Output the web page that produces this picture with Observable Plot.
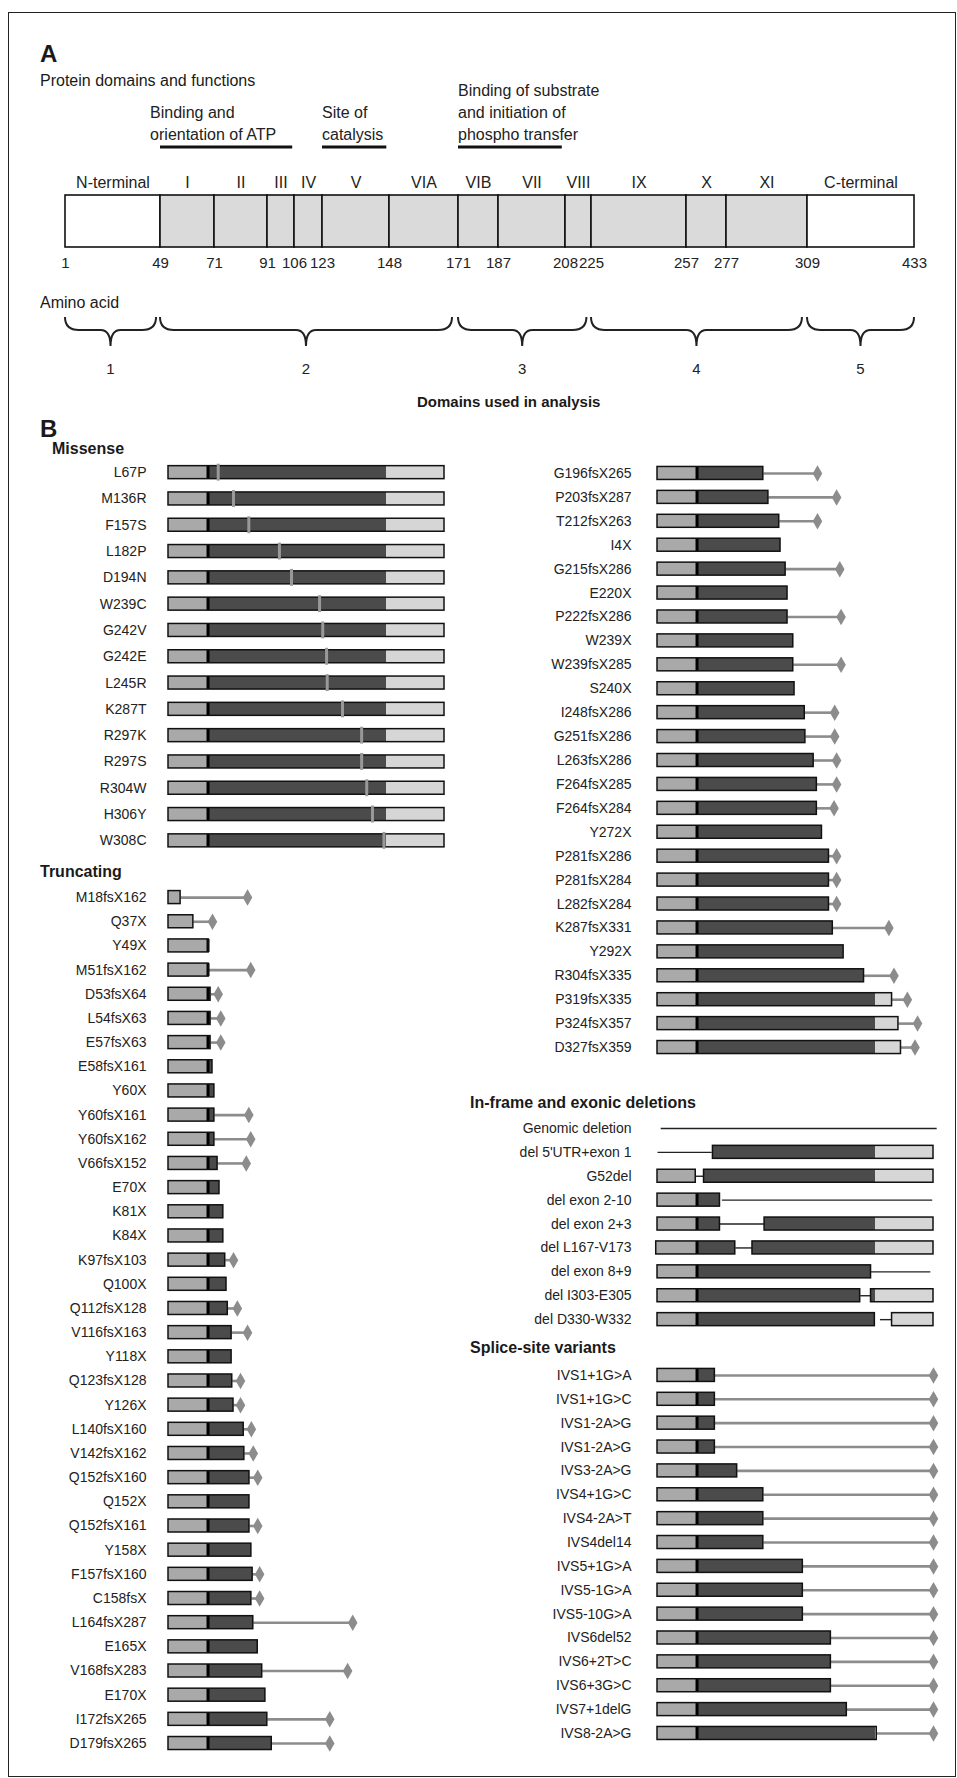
<!DOCTYPE html>
<html>
<head>
<meta charset="utf-8">
<script src="https://cdn.jsdelivr.net/npm/d3@7"></script>
<script src="https://cdn.jsdelivr.net/npm/@observablehq/plot@0.6"></script>
<style>
  body { margin: 0; background: #fff; }
  #page { position: relative; width: 957px; height: 1778px; background: #fff; font-family: "Liberation Sans", Arial, sans-serif; color: #1a1a1a; }
  #frame { position: absolute; left: 8px; top: 12px; right: 1px; bottom: 1px; border: 1px solid #222; }
  .abs { position: absolute; white-space: nowrap; }
  .panel { font-weight: bold; font-size: 24px; }
  .head { font-weight: bold; font-size: 16px; }
  .chart { position: absolute; }
</style>
</head>
<body>
<div id="page">
  <div id="frame"></div>
  <div class="abs panel" style="left:40px;top:40px">A</div>
  <div class="abs" style="left:40px;top:72px;font-size:16px">Protein domains and functions</div>
  <div class="abs" style="left:40px;top:294px;font-size:16px">Amino acid</div>
  <div class="abs" style="left:417px;top:393px;font-size:15px;font-weight:bold">Domains used in analysis</div>
  <div class="abs panel" style="left:40px;top:415px">B</div>
  <div class="abs head" style="left:52px;top:440px">Missense</div>
  <div class="abs head" style="left:40px;top:863px">Truncating</div>
  <div class="abs head" style="left:470px;top:1094px">In-frame and exonic deletions</div>
  <div class="abs head" style="left:470px;top:1339px">Splice-site variants</div>
</div>
<script>
// ---- Panel A: protein domains (amino acid boundaries) ----
const domainNames = ["N-terminal", "I", "II", "III", "IV", "V", "VIA", "VIB", "VII", "VIII", "IX", "X", "XI", "C-terminal"];
const domainBounds = [1, 49, 71, 91, 106, 123, 148, 171, 187, 208, 225, 257, 277, 309, 433];
// drawn (non-proportional) position of each boundary in the figure
const boundPixels = [65, 160, 214, 267, 294, 322, 389, 458, 498, 565, 591, 686, 726, 807, 914];
const functionNotes = [
  {text: "Binding and\norientation of ATP", from: 44, start: 49, end: 105},
  {text: "Site of\ncatalysis", from: 123, start: 123, end: 147},
  {text: "Binding of substrate\nand initiation of\nphospho transfer", from: 171, start: 171, end: 207}
];
const analysisDomains = [[1, 47], [49, 169], [171, 222], [225, 307], [309, 433]];

// ---- Panel B: values in amino-acid units along the drawn protein bar ----
const LIGHT_END = 62, DARK_END = 342, PROT_LEN = 433;

const missenseLabels = ["L67P", "M136R", "F157S", "L182P", "D194N", "W239C", "G242V", "G242E", "L245R", "K287T", "R297K", "R297S", "R304W", "H306Y", "W308C"];
const missenseSite = [78, 102, 126, 174, 193, 237, 242, 248, 249, 273, 303, 303, 311, 320, 338];

const truncLeftLabels = ["M18fsX162", "Q37X", "Y49X", "M51fsX162", "D53fsX64", "L54fsX63", "E57fsX63", "E58fsX161", "Y60X", "Y60fsX161", "Y60fsX162", "V66fsX152", "E70X", "K81X", "K84X", "K97fsX103", "Q100X", "Q112fsX128", "V116fsX163", "Y118X", "Q123fsX128", "Y126X", "L140fsX160", "V142fsX162", "Q152fsX160", "Q152X", "Q152fsX161", "Y158X", "F157fsX160", "C158fsX", "L164fsX287", "E165X", "V168fsX283", "E170X", "I172fsX265", "D179fsX265"];
const truncLeftEnd = [19, 39, 63, 63, 66, 66, 66, 69, 72, 72, 72, 77, 80, 86, 86, 89, 91, 93, 99, 99, 100, 102, 118, 119, 127, 127, 127, 130, 132, 130, 133, 140, 147, 152, 155, 162];
const truncLeftStop = [124, 69, null, 129, 78, 82, 82, null, null, 126, 129, 122, null, null, null, 102, null, 108, 124, null, 113, 113, 130, 133, 140, null, 140, null, 143, 143, 289, null, 281, null, 253, 253];

const truncRightLabels = ["G196fsX265", "P203fsX287", "T212fsX263", "I4X", "G215fsX286", "E220X", "P222fsX286", "W239X", "W239fsX285", "S240X", "I248fsX286", "G251fsX286", "L263fsX286", "F264fsX285", "F264fsX284", "Y272X", "P281fsX286", "P281fsX284", "L282fsX284", "K287fsX331", "Y292X", "R304fsX335", "P319fsX335", "P324fsX357", "D327fsX359"];
const truncRightEnd = [166, 174, 191, 193, 201, 204, 204, 213, 213, 215, 231, 232, 245, 250, 250, 258, 269, 269, 269, 275, 292, 324, 368, 378, 382];
const truncRightStop = [251, 281, 251, null, 286, null, 288, null, 288, null, 278, 278, 281, 281, 277, null, 281, 281, 281, 363, null, 371, 392, 408, 404];

const delLabels = ["Genomic deletion", "del 5'UTR+exon 1", "G52del", "del exon 2-10", "del exon 2+3", "del L167-V173", "del exon 8+9", "del I303-E305", "del D330-W332"];
// retained protein pieces [row, from, to] and deleted stretches drawn as a thin line
const delPieces = [[1, 87, 433], [2, 0, 60], [2, 73, 433], [3, 0, 98], [4, 0, 98], [4, 168, 433], [5, -2, 122], [5, 149, 433], [6, 0, 335], [7, 0, 318], [7, 335, 433], [8, 0, 341], [8, 368, 433]];
const delGaps = [[0, 5, 438], [1, 0, 85], [2, 60, 73], [3, 101, 431], [4, 98, 168], [5, 122, 149], [6, 335, 428], [7, 318, 335], [8, 349, 368]];

const spliceLabels = ["IVS1+1G>A", "IVS1+1G>C", "IVS1-2A>G", "IVS1-2A>G", "IVS3-2A>G", "IVS4+1G>C", "IVS4-2A>T", "IVS4del14", "IVS5+1G>A", "IVS5-1G>A", "IVS5-10G>A", "IVS6del52", "IVS6+2T>C", "IVS6+3G>C", "IVS7+1delG", "IVS8-2A>G"];
const spliceEnd = [90, 90, 90, 90, 125, 166, 166, 166, 228, 228, 228, 272, 272, 272, 297, 344];
const spliceStop = 433;

const page = document.getElementById("page");
const FONT = "'Liberation Sans', Arial, sans-serif";

function place(svg, left, top) {
  const wrap = document.createElement("div");
  wrap.className = "chart";
  wrap.style.left = left + "px";
  wrap.style.top = top + "px";
  wrap.appendChild(svg);
  page.appendChild(wrap);
}

// ---------- Panel A ----------
// the figure spaces the domains unevenly: map residue -> drawn position piecewise
const drawn = d3.scaleLinear(domainBounds, boundPixels);
const segs = domainNames.map((name, k) => ({name, start: domainBounds[k], end: domainBounds[k + 1], terminal: k === 0 || k === domainNames.length - 1}));

function braces(index, scales) {
  const g = d3.create("svg:g").attr("fill", "none").attr("stroke", "#222").attr("stroke-width", 2);
  analysisDomains.forEach(([a, b], k) => {
    const x0 = scales.x(drawn(a)), x1 = scales.x(drawn(b)), m = (x0 + x1) / 2;
    const top = 317, mid = 330, tip = 346;
    g.append("path").attr("d",
      `M${x0},${top} Q${x0},${mid} ${x0 + 14},${mid} L${m - 10},${mid} Q${m},${mid} ${m},${tip} Q${m},${mid} ${m + 10},${mid} L${x1 - 14},${mid} Q${x1},${mid} ${x1},${top}`);
    g.append("text").attr("x", m).attr("y", 374).attr("text-anchor", "middle").attr("stroke", "none").attr("fill", "#222").attr("font-size", 15).text(k + 1);
  });
  return g.node();
}

function notes(index, scales) {
  const g = d3.create("svg:g");
  for (const n of functionNotes) {
    const lines = n.text.split("\n");
    const x = scales.x(drawn(n.from));
    const t = g.append("text").attr("fill", "#222").attr("font-size", 16).attr("text-anchor", "start");
    lines.forEach((ln, k) => {
      t.append("tspan").attr("x", x).attr("y", 140 - (lines.length - 1 - k) * 22).text(ln);
    });
    g.append("line").attr("x1", scales.x(drawn(n.start))).attr("x2", scales.x(drawn(n.end)))
      .attr("y1", 147).attr("y2", 147).attr("stroke", "#111").attr("stroke-width", 3);
  }
  return g.node();
}

const panelA = Plot.plot({
  width: 957,
  height: 420,
  marginTop: 195,
  marginBottom: 173,
  marginLeft: 0,
  marginRight: 0,
  style: {fontFamily: FONT, fontSize: "16px", color: "#222", overflow: "visible"},
  x: {domain: [0, 957], axis: null},
  y: {axis: null},
  marks: [
    Plot.rect(segs, {x1: d => drawn(d.start), x2: d => drawn(d.end), fill: d => d.terminal ? "#ffffff" : "#dadada", stroke: "#111", strokeWidth: 1.6}),
    Plot.text(segs, {x: d => drawn((d.start + d.end) / 2), text: "name", frameAnchor: "top", dy: -19, fill: "#222"}),
    Plot.text(domainBounds, {x: d => drawn(d), text: d => String(d), frameAnchor: "bottom", dy: 20, fill: "#222", fontSize: 15}),
    notes,
    braces
  ]
});
place(panelA, 0, 0);

// ---------- Panel B helpers ----------
function fillParts(pieces) {
  const parts = [];
  for (const p of pieces) {
    const [a, b] = [p.x1, p.x2];
    if (a < LIGHT_END) parts.push({i: p.i, x1: a, x2: Math.min(b, LIGHT_END), fill: "#a9a9a9"});
    if (b > LIGHT_END && a < DARK_END) parts.push({i: p.i, x1: Math.max(a, LIGHT_END), x2: Math.min(b, DARK_END), fill: "#4b4b4b"});
    if (b > DARK_END) parts.push({i: p.i, x1: Math.max(a, DARK_END), x2: b, fill: "#d6d6d6"});
  }
  return parts;
}

function rowChart({labels, pieces, gaps = [], tails = [], sites = [], left, top, step, width, marginLeft, tickPadding}) {
  const n = labels.length;
  const hh = 6.5 / step;
  const parts = fillParts(pieces);
  const y1 = d => d.i - hh, y2 = d => d.i + hh;
  const chart = Plot.plot({
    width,
    height: n * step,
    marginTop: 0, marginBottom: 0,
    marginLeft,
    marginRight: width - marginLeft - 276,
    style: {fontFamily: FONT, fontSize: "14px", color: "#222", overflow: "visible"},
    x: {domain: [0, PROT_LEN], axis: null},
    y: {domain: [-0.5, n - 0.5], reverse: true, ticks: d3.range(n), tickFormat: i => labels[i], tickSize: 0, tickPadding, label: null},
    marks: [
      Plot.link(gaps, {x1: "x1", x2: "x2", y1: "i", y2: "i", stroke: "#222", strokeWidth: 1.4}),
      Plot.link(tails, {x1: "x1", x2: "x2", y1: "i", y2: "i", stroke: "#8c8c8c", strokeWidth: 2.6}),
      Plot.dot(tails, {x: "x2", y: "i", symbol: "diamond", r: 5, fill: "#8c8c8c"}),
      Plot.rect(parts, {x1: "x1", x2: "x2", y1, y2, fill: d => d.fill}),
      Plot.ruleX(pieces.filter(p => p.x1 < LIGHT_END && p.x2 > LIGHT_END), {x: () => LIGHT_END, y1, y2, stroke: "#000", strokeWidth: 3}),
      Plot.rect(pieces, {x1: "x1", x2: "x2", y1, y2, fill: "none", stroke: "#111", strokeWidth: 1.5}),
      Plot.ruleX(sites, {x: "x", y1: d => d.i - hh * 1.3, y2: d => d.i + hh * 1.3, stroke: "#999", strokeWidth: 3})
    ]
  });
  place(chart, left, top);
}

function truncRows(ends, stops) {
  return {
    pieces: ends.map((e, i) => ({i, x1: 0, x2: e})),
    tails: stops.map((s, i) => s == null ? null : {i, x1: ends[i], x2: s}).filter(d => d)
  };
}

// Missense
rowChart({
  labels: missenseLabels,
  pieces: missenseLabels.map((_, i) => ({i, x1: 0, x2: PROT_LEN})),
  sites: missenseSite.map((x, i) => ({i, x})),
  left: 0, top: 459, step: 26.3, width: 480, marginLeft: 168, tickPadding: 22
});

// Truncating, left column
rowChart({
  labels: truncLeftLabels,
  ...truncRows(truncLeftEnd, truncLeftStop),
  left: 0, top: 885, step: 24.17, width: 480, marginLeft: 168, tickPadding: 22
});

// Truncating, right column
rowChart({
  labels: truncRightLabels,
  ...truncRows(truncRightEnd, truncRightStop),
  left: 480, top: 461, step: 23.92, width: 477, marginLeft: 177, tickPadding: 26
});

// In-frame and exonic deletions
rowChart({
  labels: delLabels,
  pieces: delPieces.map(([i, x1, x2]) => ({i, x1, x2})),
  gaps: delGaps.map(([i, x1, x2]) => ({i, x1, x2})),
  left: 480, top: 1116, step: 23.9, width: 477, marginLeft: 177, tickPadding: 26
});

// Splice-site variants
rowChart({
  labels: spliceLabels,
  pieces: spliceEnd.map((e, i) => ({i, x1: 0, x2: e})),
  tails: spliceEnd.map((e, i) => ({i, x1: e, x2: spliceStop})),
  left: 480, top: 1363, step: 23.87, width: 477, marginLeft: 177, tickPadding: 26
});
</script>
</body>
</html>
